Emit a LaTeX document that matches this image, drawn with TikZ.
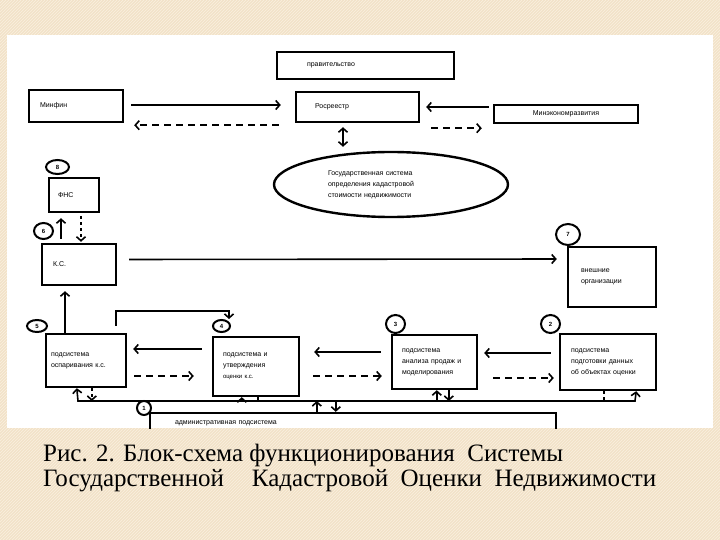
\documentclass[tikz,border=0pt]{standalone}
\usepackage{fontspec}
\setmainfont{Liberation Serif}
\newfontfamily\dsans{Liberation Sans}
\usetikzlibrary{arrows.meta,shapes.geometric,patterns,calc}
\definecolor{bgbeige}{RGB}{242,226,201}
\definecolor{bgstripe}{RGB}{250,240,224}
\begin{document}
\begin{tikzpicture}[x=1pt,y=-1pt,
  >={Straight Barb[length=4pt,width=9pt]},
  box/.style={draw, line width=2.4pt, rectangle, align=left, inner ysep=0pt,
    font=\dsans\fontsize{7}{11}\selectfont},
  numc/.style={draw, ellipse, line width=2pt, fill=white, inner sep=0pt,
    font=\dsans\bfseries\fontsize{6}{6}\selectfont},
  conn/.style={line width=1.6pt, ->},
  dsh/.style={dash pattern=on 7pt off 5pt},
  dshort/.style={dash pattern=on 3pt off 3pt},
  ]
\useasboundingbox (0,0) rectangle (720,540);
\fill[bgbeige] (0,0) rectangle (720,540);
\fill[pattern=north east lines, pattern color=bgstripe] (0,0) rectangle (720,540);
\fill[white] (7,35) rectangle (713,428);

% boxes
\node[box, minimum height=27pt, text width=117pt, inner xsep=30pt] (gov) at (365.5,65.5) {правительство};
\node[box, minimum height=32pt, text width=72pt, inner xsep=11pt] (minfin) at (76,106) {Минфин};
\node[box, minimum height=30pt, text width=85pt, inner xsep=19pt] (ros) at (357.5,107) {Росреестр};
\node[box, minimum height=18pt, text width=124pt, inner xsep=10pt, align=center] (minek) at (566,114) {Минэкономразвития};
\node[draw, ellipse, line width=2.4pt, inner sep=0pt, minimum width=234pt, minimum height=65pt,
  text width=126pt, align=left, font=\dsans\fontsize{7}{11}\selectfont] (gsk) at (391,184.5)
  {Государственная система\\определения кадастровой\\стоимости недвижимости};
\node[box, minimum height=34pt, text width=32pt, inner xsep=9pt] (fns) at (74,195) {ФНС};
\node[box, minimum height=41pt, text width=52pt, inner xsep=11pt] (kc) at (79,264.5) {К.С.};
\node[box, minimum height=60pt, text width=62pt, inner xsep=13pt] (vn) at (612,277) {внешние\\организации};
\node[box, minimum height=53pt, text width=70pt, inner xsep=5pt] (osp) at (86,360.5) {подсистема\\оспаривания к.с.};
\node[box, minimum height=59pt, text width=66pt, inner xsep=10pt] (ut) at (256,366.5) {подсистема и\\утверждения\\{\fontsize{6}{11}\selectfont оценки к.с.}};
\node[box, minimum height=54pt, text width=65pt, inner xsep=10pt] (an) at (434.5,362) {подсистема\\анализа продаж и\\моделирования};
\node[box, minimum height=56pt, text width=74pt, inner xsep=11pt] (pod) at (608,362) {подсистема\\подготовки данных\\об объектах оценки};
\begin{scope}
\clip (7,35) rectangle (713,428);
\node[box, minimum height=20pt, text width=356pt, inner xsep=25pt] (admin) at (353,423) {административная подсистема};
\end{scope}

% number circles
\node[numc, minimum width=23pt, minimum height=14pt] (c8) at (57.5,167) {8};
\node[numc, minimum width=19pt, minimum height=16pt] (c6) at (43.5,231) {6};
\node[numc, minimum width=24pt, minimum height=21pt] (c7) at (568,234.5) {7};
\node[numc, minimum width=20pt, minimum height=12pt] (c5) at (37,326) {5};
\node[numc, minimum width=17pt, minimum height=12pt] (c4) at (221.5,326) {4};
\node[numc, minimum width=19pt, minimum height=18pt] (c3) at (395.5,324) {3};
\node[numc, minimum width=19pt, minimum height=18pt] (c2) at (550.5,324) {2};

% connectors top
\draw[conn, shorten <=7pt, shorten >=14pt] ([yshift=1pt]minfin.east) -- ([yshift=2pt]ros.west);
\draw[conn, dsh, shorten <=16pt, shorten >=10pt] ([yshift=-2pt]ros.south west) -- ([yshift=-2pt]minfin.south east);
\draw[conn, shorten <=4pt, shorten >=6pt] ([yshift=7pt]minek.west) -- (ros.east);
\draw[conn, dsh, shorten <=11pt, shorten >=11pt] ([yshift=-5pt]ros.south east) -- ([yshift=-4pt]minek.south west);
\draw[conn, <->, shorten <=4pt, shorten >=4pt] ([xshift=-14.5pt]ros.south) -- ([xshift=-48pt]gsk.north);

% FNS / KC
\draw[conn, shorten <=4pt, shorten >=5pt] ([xshift=-18pt]kc.north) -- ([xshift=-13pt]fns.south);
\draw[conn, dshort, shorten <=3pt, shorten >=1pt] ([xshift=7pt]fns.south) -- ([xshift=2pt]kc.north);
\draw[conn, shorten <=12pt, shorten >=10pt] ([yshift=5pt]kc.east) -- ([yshift=18pt]vn.west);
\draw[conn, shorten >=5pt] ([xshift=-21pt]osp.north) -- ([xshift=-14pt]kc.south);

% lower row
\draw[conn, shorten <=7pt] ([xshift=30pt]osp.north) -- ++(0,-22) -| ([xshift=7.5pt]c4.north);
\draw[conn, shorten <=10pt, shorten >=6pt] ([yshift=17.5pt]ut.west) -- ([yshift=11.5pt]osp.east);
\draw[conn, dsh, shorten <=7pt, shorten >=18pt] ([yshift=-15.5pt]osp.east) -- ([yshift=-9.5pt]ut.west);
\draw[conn, shorten <=10pt, shorten >=14pt] ([yshift=10pt]an.west) -- ([yshift=14.5pt]ut.east);
\draw[conn, dsh, shorten <=13pt, shorten >=9pt] ([yshift=-9.5pt]ut.east) -- ([yshift=-14pt]an.west);
\draw[conn, shorten <=8pt, shorten >=6pt] ([yshift=9pt]pod.west) -- ([yshift=9pt]an.east);
\draw[conn, dsh, shorten <=15pt, shorten >=5pt] ([yshift=-16pt]an.east) -- ([yshift=-16pt]pod.west);

% bus
\coordinate (busL) at (78,401);
\coordinate (busR) at (635,401);
\draw[conn, <->] ([xshift=-21pt]pod.south east) -- (busR) -- (busL) -- ([xshift=32pt]osp.south west);
\draw[conn, dshort] ([xshift=47pt]osp.south west) -- ([xshift=47pt]osp.south west |- busL);
\draw[conn] ([xshift=30pt]ut.south west |- busL) -- ([xshift=30pt]ut.south west);
\draw[line width=1.6pt] ([xshift=46pt]ut.south west) -- ([xshift=46pt]ut.south west |- busL);
\draw[conn] ([xshift=46pt]an.south west |- busL) -- ([xshift=46pt]an.south west);
\draw[conn] ([xshift=58pt]an.south west) -- ([xshift=58pt]an.south west |- busL);
\draw[line width=1.6pt, dshort] ([xshift=45pt]pod.south west) -- ([xshift=45pt]pod.south west |- busL);
\draw[conn] ([xshift=168pt]admin.north west) -- ([xshift=168pt]admin.north west |- busL);
\draw[conn] ([xshift=187pt]admin.north west |- busL) -- ([xshift=187pt]admin.north west);

\node[numc, minimum width=14pt, minimum height=14pt] (c1) at (144,408) {1};

% caption
\node[anchor=base west, align=left, inner sep=0pt, font=\fontsize{25}{25}\selectfont] (cap) at (43,486)
  {Рис. 2. Блок-схема функционирования\ \ Системы\\Государственной\hspace{28pt}Кадастровой\ \ Оценки\ \ Недвижимости};
\end{tikzpicture}
\end{document}
